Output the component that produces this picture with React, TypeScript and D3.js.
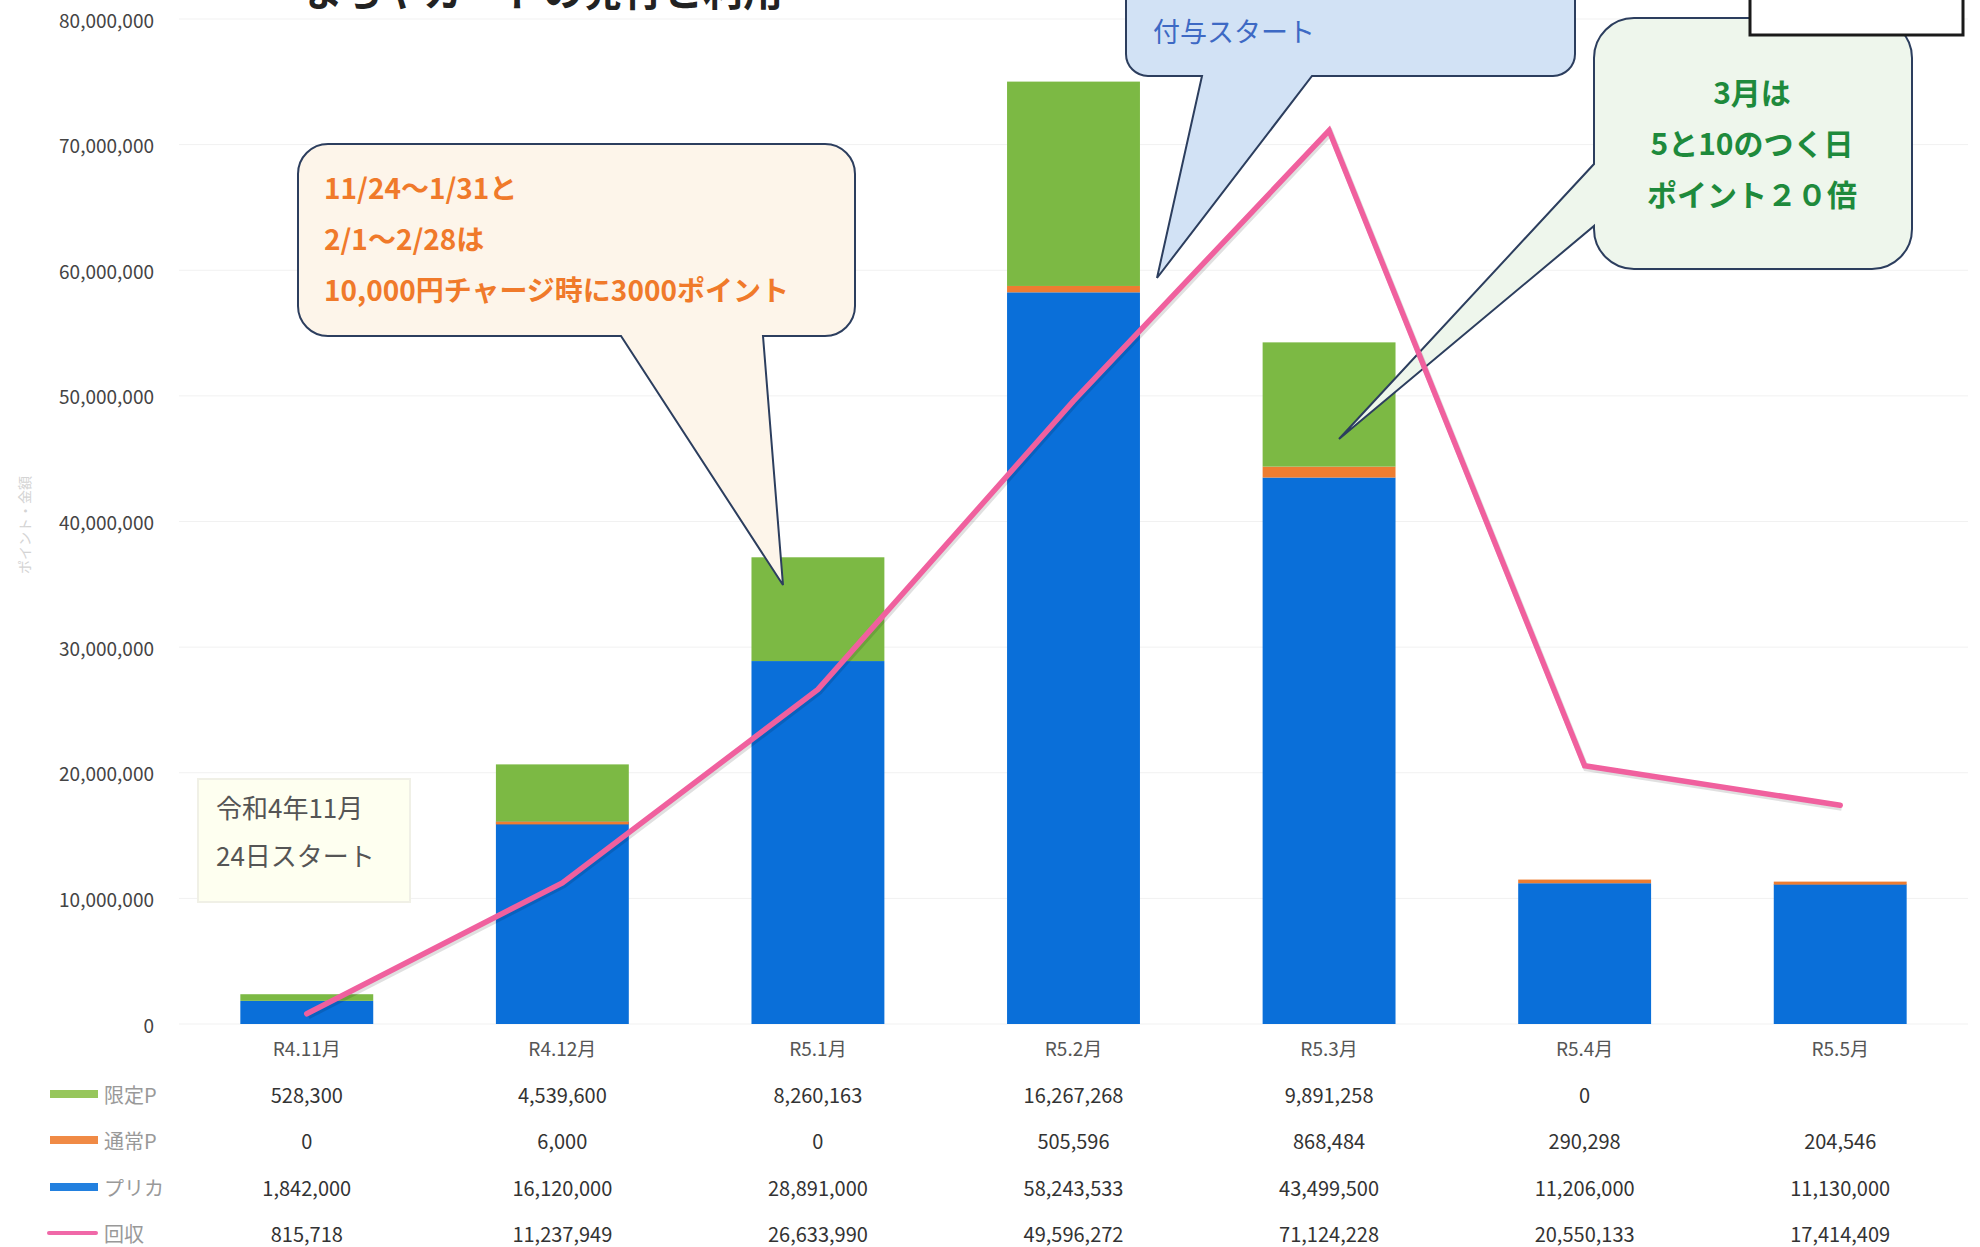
import React from "react";
import * as d3 from "d3";

const months = ["R4.11月", "R4.12月", "R5.1月", "R5.2月", "R5.3月", "R5.4月", "R5.5月"];
const limitedP: (number | null)[] = [528300, 4539600, 8260163, 16267268, 9891258, 0, null];
const normalP = [0, 6000, 0, 505596, 868484, 290298, 204546];
const prepaid = [1842000, 16120000, 28891000, 58243533, 43499500, 11206000, 11130000];
const collected = [815718, 11237949, 26633990, 49596272, 71124228, 20550133, 17414409];
const yTickValues = [0, 10000000, 20000000, 30000000, 40000000, 50000000, 60000000, 70000000, 80000000];

const legendRows = [
  { label: "限定P", color: "#8cc04a", values: limitedP, kind: "bar" },
  { label: "通常P", color: "#ee7d31", values: normalP, kind: "bar" },
  { label: "プリカ", color: "#0a72dc", values: prepaid, kind: "bar" },
  { label: "回収", color: "#f068a8", values: collected, kind: "line" },
];

const FONT = "'Noto Sans CJK JP', 'Noto Sans', sans-serif";

// rounded callout box with a tail on the bottom edge (a < b, along x)
const bottomCallout = (x: number, y: number, w: number, h: number, r: number, a: number, b: number, tip: [number, number]) =>
  `M${x + r},${y} H${x + w - r} A${r},${r} 0 0 1 ${x + w},${y + r} V${y + h - r} A${r},${r} 0 0 1 ${x + w - r},${y + h}` +
  ` H${b} L${tip[0]},${tip[1]} L${a},${y + h} H${x + r} A${r},${r} 0 0 1 ${x},${y + h - r} V${y + r} A${r},${r} 0 0 1 ${x + r},${y} Z`;

// rounded callout box with a tail on the left edge (a < b, along y)
const leftCallout = (x: number, y: number, w: number, h: number, r: number, a: number, b: number, tip: [number, number]) =>
  `M${x + r},${y} H${x + w - r} A${r},${r} 0 0 1 ${x + w},${y + r} V${y + h - r} A${r},${r} 0 0 1 ${x + w - r},${y + h}` +
  ` H${x + r} A${r},${r} 0 0 1 ${x},${y + h - r} V${b} L${tip[0]},${tip[1]} L${x},${a} V${y + r} A${r},${r} 0 0 1 ${x + r},${y} Z`;

const App: React.FC = () => {
  const width = 1980;
  const height = 1247;
  const plot = { left: 179, right: 1968, top: 19, bottom: 1024 };

  const x = d3
    .scaleBand()
    .domain(months)
    .range([plot.left, plot.right])
    .paddingInner(0.48)
    .paddingOuter(0.24);

  const y = d3.scaleLinear().domain([0, 80000000]).range([plot.bottom, plot.top]);
  const fmt = d3.format(",");

  const cx = (m: string) => x(m)! + x.bandwidth() / 2;

  // stacked bars: プリカ bottom, 通常P, 限定P top
  const stackData = months.map((m, i) => ({
    month: m,
    prepaid: prepaid[i],
    normal: normalP[i],
    limited: limitedP[i] ?? 0,
  }));
  const stack = d3.stack<any>().keys(["prepaid", "normal", "limited"])(stackData);
  const stackColors: Record<string, string> = {
    prepaid: "#0a6fd9",
    normal: "#ee7d31",
    limited: "#7cb944",
  };

  const line = d3
    .line<number>()
    .x((_, i) => cx(months[i]))
    .y((d) => y(d));

  const rowY = [1094, 1140, 1187, 1233];

  return (
    <svg
      width={width}
      height={height}
      style={{ position: "absolute", left: 0, top: 0, background: "#fff" }}
      fontFamily={FONT}
    >
      {/* title, cut by the top edge */}
      <text x={303} y={6} fontSize={40} fontWeight={700} fill="#222">
        まちやカードの発行と利用
      </text>

      {/* gridlines */}
      {yTickValues.map((t) => (
        <line key={t} x1={plot.left} x2={plot.right} y1={y(t)} y2={y(t)} stroke="#f1f1f1" strokeWidth={1} />
      ))}

      {/* Y axis labels */}
      {yTickValues.map((t) => (
        <text key={t} x={154} y={y(t)} textAnchor="end" dominantBaseline="central" fontSize={19} fill="#444">
          {fmt(t)}
        </text>
      ))}
      <text
        transform="translate(24,525) rotate(-90)"
        textAnchor="middle"
        dominantBaseline="central"
        fontSize={14}
        fill="#d4d4d4"
      >
        ポイント・金額
      </text>

      {/* Bars */}
      {stack.map((layer) => (
        <g key={layer.key} fill={stackColors[layer.key]}>
          {layer.map((d, i) =>
            d[1] - d[0] > 0 ? (
              <rect
                key={i}
                x={x(months[i])}
                y={y(d[1])}
                width={x.bandwidth()}
                height={Math.max(y(d[0]) - y(d[1]), layer.key === "normal" ? 3 : 0)}
              />
            ) : null
          )}
        </g>
      ))}

      {/* start note */}
      <rect x={198} y={779} width={212} height={123} fill="#fefff0" stroke="#f0f0e6" strokeWidth={2} />
      <text x={216} y={806} dominantBaseline="central" fontSize={26} fill="#555">
        令和4年11月
      </text>
      <text x={216} y={854} dominantBaseline="central" fontSize={26} fill="#555">
        24日スタート
      </text>

      {/* callout: campaign */}
      <path
        d={bottomCallout(298, 144, 557, 192, 30, 621, 763, [783, 585])}
        fill="#fdf5ea"
        stroke="#2c3e5e"
        strokeWidth={2}
      />
      {["11/24～1/31と", "2/1～2/28は", "10,000円チャージ時に3000ポイント"].map((s, i) => (
        <text key={i} x={324} y={187 + i * 51} dominantBaseline="central" fontSize={28} fontWeight={700} fill="#f07a2a">
          {s}
        </text>
      ))}

      {/* callout: points start */}
      <path
        d={bottomCallout(1126, -80, 449, 156, 22, 1202, 1312, [1157, 278])}
        fill="#d2e2f5"
        stroke="#2c3e5e"
        strokeWidth={2}
      />
      <text x={1153} y={30} dominantBaseline="central" fontSize={27} fill="#3d69c4">
        付与スタート
      </text>

      {/* callout: March */}
      <path
        d={leftCallout(1594, 18, 318, 251, 40, 164, 226, [1339, 439])}
        fill="#eef6ec"
        stroke="#2c3e5e"
        strokeWidth={2}
      />
      {["3月は", "5と10のつく日", "ポイント２０倍"].map((s, i) => (
        <text
          key={i}
          x={1752}
          y={91 + i * 51}
          textAnchor="middle"
          dominantBaseline="central"
          fontSize={30}
          fontWeight={700}
          fill="#1e8a3c"
        >
          {s}
        </text>
      ))}

      {/* top-right box */}
      <rect x={1750} y={-10} width={213} height={45} fill="#fff" stroke="#1a1a1a" strokeWidth={3} />

      {/* 回収 line */}
      <path
        d={line(collected) ?? ""}
        fill="none"
        stroke="#000"
        strokeOpacity={0.12}
        strokeWidth={6}
        transform="translate(1.5,2.5)"
        strokeLinejoin="miter"
      />
      <path d={line(collected) ?? ""} fill="none" stroke="#f0609e" strokeWidth={5.5} strokeLinecap="round" />

      {/* category labels */}
      {months.map((m) => (
        <text key={m} x={cx(m)} y={1047} textAnchor="middle" dominantBaseline="central" fontSize={19} fill="#555">
          {m}
        </text>
      ))}

      {/* data table */}
      {legendRows.map((row, r) => (
        <g key={row.label}>
          {row.kind === "bar" ? (
            <rect x={50} y={rowY[r] - 4} width={48} height={8} fill={row.color} opacity={0.9} />
          ) : (
            <rect x={47} y={rowY[r] - 2} width={51} height={4} rx={2} fill={row.color} />
          )}
          <text x={104} y={rowY[r]} dominantBaseline="central" fontSize={20} fill="#999">
            {row.label}
          </text>
          {row.values.map((v, i) =>
            v === null ? null : (
              <text
                key={i}
                x={cx(months[i])}
                y={rowY[r]}
                textAnchor="middle"
                dominantBaseline="central"
                fontSize={20}
                fill="#333"
              >
                {fmt(v)}
              </text>
            )
          )}
        </g>
      ))}
    </svg>
  );
};

export default App;
